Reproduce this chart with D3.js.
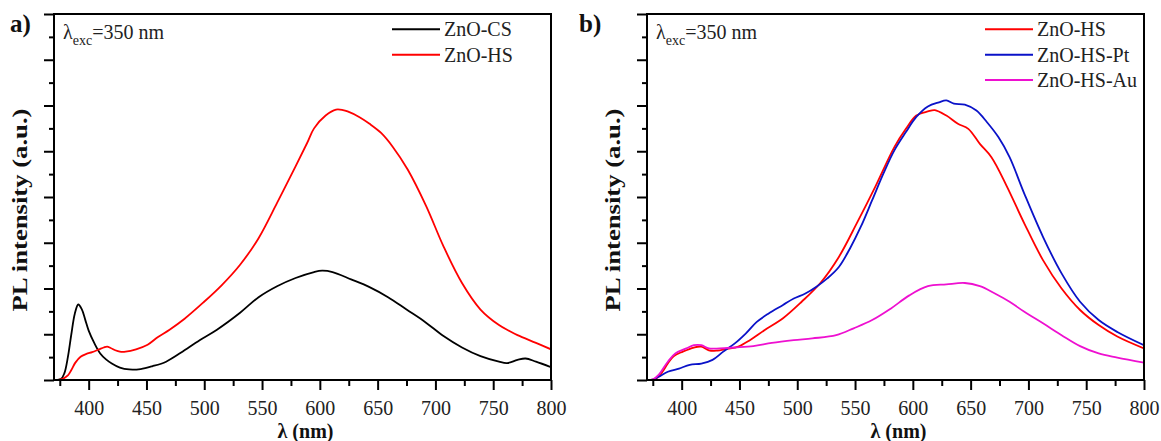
<!DOCTYPE html>
<html>
<head>
<meta charset="utf-8">
<script src="https://cdn.jsdelivr.net/npm/d3@7"></script>
<style>
  html, body { margin: 0; padding: 0; background: #fff; }
  svg { display: block; }
  text { font-family: "Liberation Serif", "Times New Roman", serif; }
</style>
</head>
<body>
<svg id="chart" width="1161" height="441"></svg>
<script>
// ---------- data ----------
const xMajorTicks = [400, 450, 500, 550, 600, 650, 700, 750, 800];
const xMinorTicks = [375, 425, 475, 525, 575, 625, 675, 725, 775];
const yMajorTicks = [0, 1, 2, 3, 4, 5, 6, 7, 8];
const yMinorTicks = [0.5, 1.5, 2.5, 3.5, 4.5, 5.5, 6.5, 7.5];

// Panel a) ZnO-CS
const csWl  = [370, 376, 379, 382, 385, 388, 391, 394, 397, 400, 405, 410, 415, 420, 427, 435, 445, 455, 467, 480, 496, 511, 531, 547, 563, 579, 595, 602, 611, 627, 643, 659, 675, 691, 707, 723, 739, 755, 762, 771, 778, 787, 800];
const csVal = [0, 0.02, 0.15, 0.5, 1.0, 1.45, 1.65, 1.55, 1.32, 1.08, 0.8, 0.58, 0.45, 0.36, 0.27, 0.23, 0.24, 0.3, 0.4, 0.6, 0.87, 1.1, 1.47, 1.81, 2.05, 2.23, 2.36, 2.39, 2.36, 2.2, 2.03, 1.81, 1.54, 1.27, 0.96, 0.71, 0.52, 0.4, 0.37, 0.44, 0.47, 0.4, 0.28];

// Panel a) ZnO-HS
const hsAWl  = [370, 374, 378, 382, 385, 388.5, 393, 398, 403, 409, 413, 416, 419, 423, 427, 432, 441, 451, 460, 470, 483, 499, 515, 531, 547, 563, 579, 589, 595, 605, 614, 620, 624, 634, 643, 653, 663, 676, 692, 707, 723, 739, 755, 764, 771, 787, 800];
const hsAVal = [0, 0, 0.03, 0.1, 0.22, 0.38, 0.51, 0.57, 0.61, 0.67, 0.71, 0.73, 0.7, 0.65, 0.62, 0.62, 0.67, 0.77, 0.94, 1.1, 1.34, 1.69, 2.07, 2.52, 3.1, 3.87, 4.67, 5.18, 5.5, 5.78, 5.91, 5.9, 5.87, 5.75, 5.6, 5.4, 5.1, 4.6, 3.8, 2.92, 2.12, 1.54, 1.2, 1.07, 0.98, 0.81, 0.67];

// Panel b) ZnO-HS
const hsBWl  = [370, 375, 380, 384, 388, 393, 401, 410.6, 417, 423.5, 430, 439.5, 449, 459, 471.6, 487.7, 503.8, 520, 536, 552, 568, 584, 594, 603, 613, 619, 629, 639, 648, 658, 668, 681, 696.5, 712.6, 728.7, 744.7, 760.8, 776.9, 800];
const hsBVal = [0, 0.01, 0.07, 0.2, 0.36, 0.52, 0.62, 0.71, 0.73, 0.65, 0.64, 0.68, 0.73, 0.87, 1.09, 1.35, 1.71, 2.12, 2.69, 3.45, 4.25, 5.09, 5.49, 5.78, 5.87, 5.9, 5.78, 5.6, 5.49, 5.16, 4.87, 4.25, 3.42, 2.62, 2.0, 1.53, 1.2, 0.95, 0.69];

// Panel b) ZnO-HS-Pt
const ptWl  = [370, 375, 380, 388, 397.7, 407, 417, 426.7, 436, 446, 455.6, 465, 475, 487.7, 497, 507, 516.6, 526, 536, 545.5, 555, 564.8, 574.5, 584, 594, 603, 613, 622.6, 629, 635.5, 645, 655, 664, 674, 683.7, 696.5, 712.6, 728.7, 744.7, 760.8, 776.9, 800];
const ptVal = [0, 0.01, 0.07, 0.18, 0.25, 0.33, 0.36, 0.44, 0.62, 0.8, 1.02, 1.27, 1.45, 1.64, 1.78, 1.89, 2.04, 2.22, 2.47, 2.87, 3.35, 3.93, 4.51, 5.02, 5.42, 5.75, 5.98, 6.07, 6.11, 6.04, 6.02, 5.89, 5.64, 5.31, 4.87, 4.07, 3.13, 2.33, 1.71, 1.31, 1.05, 0.76];

// Panel b) ZnO-HS-Au
const auWl  = [370, 375, 380, 388, 394.5, 404, 410.6, 417, 423.5, 433, 446, 462, 478, 497, 513, 533.7, 548.8, 564.8, 580.8, 597, 613, 629, 645, 658, 671, 683.7, 696.5, 712.6, 728.7, 744.7, 760.8, 776.9, 800];
const auVal = [0, 0.01, 0.11, 0.4, 0.58, 0.69, 0.76, 0.76, 0.69, 0.69, 0.71, 0.74, 0.81, 0.87, 0.91, 0.98, 1.13, 1.31, 1.56, 1.85, 2.05, 2.09, 2.12, 2.05, 1.89, 1.71, 1.49, 1.24, 0.98, 0.74, 0.58, 0.49, 0.38];

const panelLetters = ["a)", "b)"];
const excText = "=350 nm";
const xTitle = "λ (nm)";
const yTitle = "PL intensity (a.u.)";

// ---------- drawing ----------
const svg = d3.select("#chart");
const plotTop = 14, plotBottom = 380;
const serif = "'Liberation Serif', 'Times New Roman', serif";

const panels = [
  { left: 54, right: 551, letterX: 10, letter: panelLetters[0],
    series: [
      { name: "ZnO-CS", wl: csWl, val: csVal, color: "#000000" },
      { name: "ZnO-HS", wl: hsAWl, val: hsAVal, color: "#ff0000" }
    ] },
  { left: 647, right: 1144, letterX: 579, letter: panelLetters[1],
    series: [
      { name: "ZnO-HS", wl: hsBWl, val: hsBVal, color: "#ff0000" },
      { name: "ZnO-HS-Pt", wl: ptWl, val: ptVal, color: "#0a12c8" },
      { name: "ZnO-HS-Au", wl: auWl, val: auVal, color: "#ee10d0" }
    ] }
];

panels.forEach(p => {
  const x = d3.scaleLinear().domain([370, 800]).range([p.left, p.right]);
  const y = d3.scaleLinear().domain([0, 8]).range([plotBottom, plotTop]);
  const g = svg.append("g").style("font-family", serif);

  const clipId = "clip" + p.left;
  svg.append("clipPath").attr("id", clipId).append("rect")
    .attr("x", p.left).attr("y", plotTop).attr("width", p.right - p.left).attr("height", plotBottom - plotTop);

  const line = d3.line().x(d => x(d[0])).y(d => y(d[1])).curve(d3.curveCatmullRom.alpha(0.5));
  p.series.forEach(s => {
    const pts = s.wl.map((w, i) => [w, s.val[i]]);
    g.append("path").datum(pts)
      .attr("clip-path", `url(#${clipId})`)
      .attr("d", line)
      .attr("fill", "none")
      .attr("stroke", s.color)
      .attr("stroke-width", 1.8)
      .attr("stroke-linejoin", "round");
  });

  const xa = g.append("g").attr("transform", `translate(0,${plotBottom})`)
    .call(d3.axisBottom(x).tickValues(xMajorTicks).tickSize(10).tickPadding(10.5).tickFormat(d3.format("d")));
  xa.attr("font-family", null);
  xa.select(".domain").remove();
  xa.selectAll("line").attr("stroke", "#000").attr("stroke-width", 2);
  xa.selectAll("text").attr("font-size", 20).attr("fill", "#222")
    .style("font-family", serif);

  const xm = g.append("g").attr("transform", `translate(0,${plotBottom})`)
    .call(d3.axisBottom(x).tickValues(xMinorTicks).tickSize(6).tickFormat(""));
  xm.select(".domain").remove();
  xm.selectAll("line").attr("stroke", "#000").attr("stroke-width", 2);

  const ya = g.append("g").attr("transform", `translate(${p.left},0)`)
    .call(d3.axisLeft(y).tickValues(yMajorTicks).tickSize(10).tickFormat(""));
  ya.select(".domain").remove();
  ya.selectAll("line").attr("stroke", "#000").attr("stroke-width", 2);

  const ym = g.append("g").attr("transform", `translate(${p.left},0)`)
    .call(d3.axisLeft(y).tickValues(yMinorTicks).tickSize(5).tickFormat(""));
  ym.select(".domain").remove();
  ym.selectAll("line").attr("stroke", "#000").attr("stroke-width", 2);

  g.append("rect")
    .attr("x", p.left).attr("y", plotTop)
    .attr("width", p.right - p.left).attr("height", plotBottom - plotTop)
    .attr("fill", "none").attr("stroke", "#000").attr("stroke-width", 2);

  g.append("text")
    .attr("x", (p.left + p.right) / 2 + 3).attr("y", 437.5)
    .attr("text-anchor", "middle").attr("font-size", 20).attr("font-weight", "bold")
    .attr("fill", "#111").text(xTitle);

  g.append("text")
    .attr("transform", `translate(${p.left - 27},210) rotate(-90)`)
    .attr("text-anchor", "middle").attr("font-size", 20).attr("font-weight", "bold")
    .attr("textLength", 203).attr("lengthAdjust", "spacingAndGlyphs")
    .attr("fill", "#111").text(yTitle);

  g.append("text")
    .attr("x", p.letterX).attr("y", 32)
    .attr("font-size", 25).attr("font-weight", "bold").attr("fill", "#111")
    .text(p.letter);

  const ex = g.append("text").attr("x", p.left + 9).attr("y", 39)
    .attr("font-size", 20).attr("fill", "#222");
  ex.append("tspan").text("λ");
  ex.append("tspan").attr("font-size", 14).attr("dy", 6).text("exc");
  ex.append("tspan").attr("dy", -6).text(excText);

  p.series.forEach((s, i) => {
    const cy = 29.3 + i * 25.4;
    g.append("line")
      .attr("x1", p.right - 159).attr("x2", p.right - 111)
      .attr("y1", cy).attr("y2", cy)
      .attr("stroke", s.color).attr("stroke-width", 2);
    g.append("text")
      .attr("x", p.right - 107).attr("y", cy + 7)
      .attr("font-size", 20).attr("fill", "#222")
      .text(s.name);
  });
});
</script>
</body>
</html>
